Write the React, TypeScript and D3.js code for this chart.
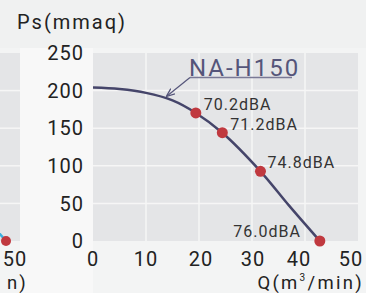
import * as d3 from "d3";
import React from "react";

// fan curve NA-H150 (Q in m3/min, Ps in mmaq)
const curveQ = [0, 5, 10, 15, 19.4, 24.4, 31.6, 37, 42.8];
const curvePs = [204, 202, 197, 187, 170.3, 144, 92.7, 47, 0];

// measured points with noise level
const pointQ = [19.4, 24.4, 31.6, 42.8];
const pointPs = [170.3, 144, 92.7, 0];
const pointLabels = ["70.2dBA", "71.2dBA", "74.8dBA", "76.0dBA"];

const xTicks = [0, 10, 20, 30, 40, 50];
const yTicks = [0, 50, 100, 150, 200, 250];

const W = 366;
const H = 293;
const FONT = "Roboto, 'DejaVu Sans', sans-serif";

export default function App() {
  const x = d3.scaleLinear().domain([0, 50]).range([93, 358]);
  const y = d3.scaleLinear().domain([0, 250]).range([241, 53]);

  const line = d3
    .line<number>()
    .x((d, i) => x(curveQ[i]))
    .y((d, i) => y(curvePs[i]))
    .curve(d3.curveCatmullRom.alpha(0.5));

  // label offsets next to each dot
  const labelDx = [8, 8, 7, -19];
  const labelDy = [-3, -3, -3, -4];
  const labelAnchor = ["start", "start", "start", "end"];
  const xLabelDx = [0, 0, 2, 1, -6, -7];

  return (
    <svg
      width={W}
      height={H}
      style={{ position: "absolute", left: 0, top: 0, background: "#f3f4f4" }}
    >
      <defs>
        <marker
          id="arr"
          viewBox="0 0 10 10"
          refX="9"
          refY="5"
          markerWidth="7"
          markerHeight="7"
          orient="auto"
        >
          <path d="M0,1 L10,5 L0,9" fill="none" stroke="#55557a" strokeWidth="1.5" />
        </marker>
      </defs>
      <rect x={0} y={0} width={W} height={48} fill="#f0f1f1" />
      <rect x={20} y={48} width={73} height={H - 48} fill="#f8f8f8" />

      {/* neighbouring chart, cut off on the left */}
      <rect x={0} y={y(250)} width={20} height={y(0) - y(250)} fill="#e4e5e7" />
      {yTicks.slice(1, -1).map((t) => (
        <line key={"lg" + t} x1={0} x2={20} y1={y(t)} y2={y(t)} stroke="#f6f6f6" strokeWidth={1.5} />
      ))}
      <line x1={-4} y1={y(15)} x2={6} y2={y(0)} stroke="#3ab0e0" strokeWidth={2.5} />
      <circle cx={6} cy={y(0)} r={5} fill="#c0393f" />
      <text x={15} y={266} textAnchor="middle" fontFamily={FONT} fontSize={20} fill="#222" letterSpacing={1}>
        50
      </text>
      <text x={7} y={288.5} fontFamily={FONT} fontSize={18.5} fill="#222" letterSpacing={2}>
        n)
      </text>

      {/* main plot */}
      <rect x={x(0)} y={y(250)} width={x(50) - x(0)} height={y(0) - y(250)} fill="#e4e5e7" />
      {xTicks.slice(1, -1).map((t) => (
        <line key={"gx" + t} x1={x(t)} x2={x(t)} y1={y(250)} y2={y(0)} stroke="#f6f6f6" strokeWidth={1.5} />
      ))}
      {yTicks.slice(1, -1).map((t) => (
        <line key={"gy" + t} x1={x(0)} x2={x(50)} y1={y(t)} y2={y(t)} stroke="#f6f6f6" strokeWidth={1.5} />
      ))}

      {yTicks.map((t) => (
        <text
          key={"yt" + t}
          x={84}
          y={y(t)}
          dy="0.36em"
          textAnchor="end"
          fontFamily={FONT}
          fontSize={20}
          fill="#222"
          letterSpacing={1}
        >
          {t}
        </text>
      ))}
      {xTicks.map((t, i) => (
        <text
          key={"xt" + t}
          x={x(t) + xLabelDx[i]}
          y={266}
          textAnchor="middle"
          fontFamily={FONT}
          fontSize={20}
          fill="#222"
          letterSpacing={1}
        >
          {t}
        </text>
      ))}

      <text x={17} y={29} fontFamily={FONT} fontSize={20} fill="#222" letterSpacing={2}>
        Ps(mmaq)
      </text>
      <text x={364} y={288.5} textAnchor="end" fontFamily={FONT} fontSize={18.5} fill="#222" letterSpacing={2.3}>
        Q(m
        <tspan fontSize={10} dy={-8}>3</tspan>
        <tspan dy={8}>/min)</tspan>
      </text>

      <path d={line(curveQ) || ""} fill="none" stroke="#45456a" strokeWidth={2.5} />

      {pointQ.map((q, i) => (
        <g key={"p" + i}>
          <circle cx={x(q)} cy={y(pointPs[i])} r={5.5} fill="#c0393f" />
          <text
            x={x(q) + labelDx[i]}
            y={y(pointPs[i]) + labelDy[i]}
            textAnchor={labelAnchor[i]}
            fontFamily={FONT}
            fontSize={16}
            fill="#333"
            letterSpacing={1}
          >
            {pointLabels[i]}
          </text>
        </g>
      ))}

      {/* model name with leader */}
      <text x={189} y={76} fontFamily={FONT} fontSize={24} fill="#55557a" letterSpacing={2}>
        NA-H150
      </text>
      <line x1={190} y1={77.5} x2={292} y2={77.5} stroke="#7a7a96" strokeWidth={1.5} />
      <line x1={190} y1={77.5} x2={167} y2={96} stroke="#55557a" strokeWidth={1.2} markerEnd="url(#arr)" />
    </svg>
  );
}
